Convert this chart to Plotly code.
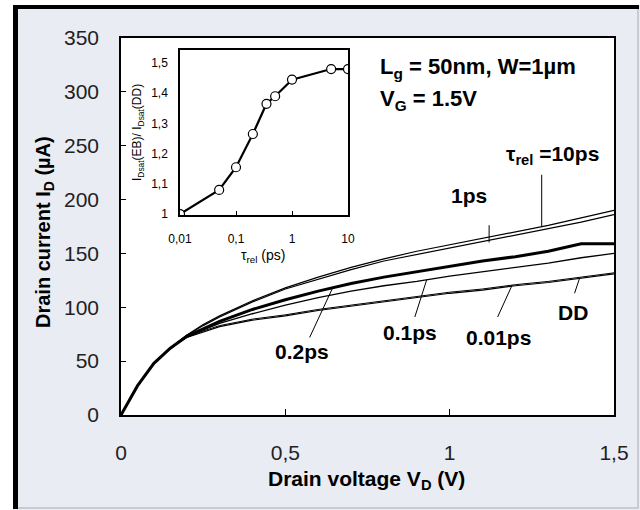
import plotly.graph_objects as go
import numpy as np

# ---------------- data ----------------
V = [0, 0.05, 0.1, 0.15, 0.2, 0.25, 0.3, 0.4, 0.5, 0.6, 0.7, 0.8, 0.9, 1.0, 1.1, 1.2, 1.3, 1.4, 1.5]
I_10ps = [0, 27, 48, 62, 74, 84, 92, 106, 118, 128, 137, 145, 152, 158, 164, 170, 176, 183, 190]
I_1ps = [0, 27, 48, 62, 74, 83, 91, 105, 117, 126, 135, 143, 149, 155, 161, 167, 173, 179, 186]
I_02ps = [0, 27, 48, 62, 73, 80, 87, 98, 107, 115, 122, 128, 133, 138, 143, 147, 152, 159, 159]
I_01ps = [0, 27, 48, 62, 73, 79, 85, 94, 102, 109, 115, 120, 124, 129, 133, 137, 141, 146, 150]
I_001ps = [0, 27, 48, 62, 72, 78, 83, 89, 93, 98, 102, 106, 110, 114, 117, 121, 124, 128, 132]
I_DD = [0, 27, 48, 62, 72, 77, 82, 88, 92, 97, 101, 105, 109, 113, 116, 120, 123, 127, 131]

tau_inset = [0.01, 0.05, 0.1, 0.2, 0.35, 0.5, 1, 5, 10]
ratio_inset = [1.0, 1.08, 1.155, 1.265, 1.365, 1.39, 1.445, 1.48, 1.48]

x_tickvals = [0, 0.5, 1, 1.5]
x_ticktext = ["0", "0,5", "1", "1,5"]
y_tickvals = [0, 50, 100, 150, 200, 250, 300, 350]
ix_tickvals = [0.01, 0.1, 1, 10]
ix_ticktext = ["0,01", "0,1", "1", "10"]
iy_tickvals = [1.0, 1.1, 1.2, 1.3, 1.4, 1.5]
iy_ticktext = ["1", "1,1", "1,2", "1,3", "1,4", "1,5"]

# ---------------- geometry helpers (pixel -> paper) ----------------
L, R, T, B = 121, 614, 38, 415
W, H = 640, 510
def px(x):
    return (x - L) / (R - L)
def py(y):
    return (B - y) / (B - T)

FONT = "Liberation Sans, Arial, sans-serif"

fig = go.Figure()

series = [
    (I_DD, 1.2), (I_001ps, 1.0), (I_01ps, 1.3), (I_02ps, 3.0), (I_1ps, 1.2), (I_10ps, 1.2)
]
for vals, w in series:
    fig.add_trace(go.Scatter(x=V, y=vals, mode="lines", line=dict(color="black", width=w),
                             showlegend=False, xaxis="x", yaxis="y"))

fig.add_trace(go.Scatter(x=tau_inset, y=ratio_inset, mode="lines+markers",
                         line=dict(color="black", width=2.2),
                         marker=dict(symbol="circle", size=9, color="white",
                                     line=dict(color="black", width=1.2)),
                         showlegend=False, xaxis="x2", yaxis="y2"))

# inset domain
ix0, ix1 = px(180), px(348)
iy0, iy1 = py(215), py(50)

fig.update_layout(
    width=W, height=H,
    margin=dict(l=L, r=W - R, t=T, b=H - B),
    paper_bgcolor="#eaecf4",
    plot_bgcolor="white",
    font=dict(family=FONT, color="black"),
    xaxis=dict(range=[0, 1.5], domain=[0, 1], tickvals=x_tickvals, ticktext=x_ticktext,
               ticks="inside", ticklen=6, tickwidth=1, tickcolor="black",
               showline=True, linecolor="black", linewidth=1.5, mirror=True,
               showgrid=False, zeroline=False, ticklabelstandoff=18,
               tickfont=dict(family=FONT, size=21, color="#222")),
    yaxis=dict(range=[0, 350], domain=[0, 1], tickvals=y_tickvals,
               ticks="inside", ticklen=5, tickwidth=1, tickcolor="black",
               showline=True, linecolor="black", linewidth=1.5, mirror=True,
               showgrid=False, zeroline=False, ticklabelstandoff=16,
               tickfont=dict(family=FONT, size=21, color="#222")),
    xaxis2=dict(type="log", range=[-2, 1], domain=[ix0, ix1], anchor="y2",
                tickvals=ix_tickvals, ticktext=ix_ticktext,
                ticks="inside", ticklen=4, tickcolor="black",
                showline=True, linecolor="black", linewidth=1.5, mirror=True,
                showgrid=False, zeroline=False, ticklabelstandoff=12,
                tickfont=dict(family=FONT, size=12)),
    yaxis2=dict(range=[0.997, 1.543], domain=[iy0, iy1], anchor="x2",
                tickvals=iy_tickvals, ticktext=iy_ticktext,
                ticks="", showline=True, linecolor="black", linewidth=1.5, mirror=True,
                showgrid=False, zeroline=False, ticklabelstandoff=8,
                tickfont=dict(family=FONT, size=12)),
)

ann = []
def paper_text(x, y, text, size, bold=True, xanchor="center", angle=0):
    ann.append(dict(x=px(x), y=py(y), xref="paper", yref="paper", text=text,
                    showarrow=False, xanchor=xanchor, yanchor="middle", textangle=angle,
                    font=dict(family=FONT, size=size, color="black",
                              weight="bold" if bold else "normal")))

paper_text(366, 480, "Drain voltage V<sub>D</sub> (V)", 21)
paper_text(44, 232, "Drain current I<sub>D</sub> (µA)", 20, angle=-90)
paper_text(138, 133, "I<sub>Dsat</sub>(EB)/ I<sub>Dsat</sub>(DD)", 12, bold=False, angle=-90)
paper_text(263, 256, "τ<sub>rel</sub> (ps)", 14, bold=False)
paper_text(378, 68, "L<sub>g</sub> = 50nm, W=1µm", 22, xanchor="left")
paper_text(378, 100, "V<sub>G</sub> = 1.5V", 22, xanchor="left")

def data_text(x, y, text, size=21):
    ann.append(dict(x=x, y=y, xref="x", yref="y", text=text, showarrow=False,
                    xanchor="center", yanchor="middle",
                    font=dict(family=FONT, size=size, color="black", weight="bold")))

data_text(1.313, 241, "τ<sub>rel</sub> =10ps")
data_text(1.058, 204, "1ps")
data_text(0.55, 58.5, "0.2ps")
data_text(0.878, 77, "0.1ps")
data_text(1.149, 71.5, "0.01ps")
data_text(1.374, 94.7, "DD")
fig.update_layout(annotations=ann)

shapes = []
def seg(x0, y0, x1, y1, w=1):
    shapes.append(dict(type="line", xref="x", yref="y", x0=x0, y0=y0, x1=x1, y1=y1,
                       line=dict(color="black", width=w)))

seg(1.28, 223, 1.28, float(np.interp(1.28, V, I_10ps)))
v1 = 1.12
seg(v1, float(np.interp(v1, V, I_1ps)) - 2, v1, float(np.interp(v1, V, I_1ps)) + 14)
seg(0.574, 72, 0.644, float(np.interp(0.644, V, I_02ps)))
seg(0.894, 91, 0.93, float(np.interp(0.93, V, I_01ps)))
seg(1.146, 91, 1.19, float(np.interp(1.19, V, I_001ps)))
seg(1.38, 113, 1.395, float(np.interp(1.395, V, I_DD)))

# outer frame (paper coords)
def prect(x0, y0, x1, y1, fill):
    shapes.append(dict(type="rect", xref="paper", yref="paper", x0=px(x0), y0=py(y0),
                       x1=px(x1), y1=py(y1), fillcolor=fill, line=dict(width=0), layer="above"))
prect(0, 0, 13, 510, "white")
prect(0, 0, 640, 5, "white")
prect(13, 5, 18, 509, "black")
prect(13, 5, 639, 9, "black")
prect(637, 9, 639, 509, "#c9cbd2")
prect(18, 507, 639, 509, "#c9cbd2")
fig.update_layout(shapes=shapes)

fig.write_html("out.html")
